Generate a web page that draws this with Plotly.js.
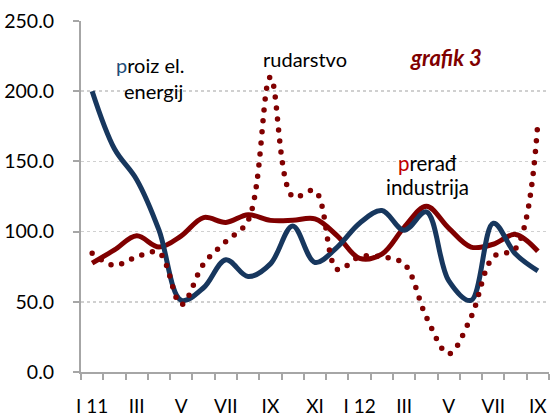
<!DOCTYPE html>
<html>
<head>
<meta charset="utf-8">
<script src="https://cdn.plot.ly/plotly-3.0.1.min.js"></script>
<style>
  html, body { margin: 0; padding: 0; background: #fff; }
  #chart { width: 550px; height: 419px; }
  .tracerud path.js-line { stroke-linecap: round; stroke-dasharray: 0 11px !important; }
</style>
</head>
<body>
<div id="chart"></div>
<script>
// Months (Jan 2011 – Sep 2012)
const months = ["I 11","II","III","IV","V","VI","VII","VIII","IX","X","XI","XII",
                "I 12","II","III","IV","V","VI","VII","VIII","IX"];
// Series values (index)
const proizElEnergije = [200, 159, 137, 101, 51, 60, 80, 68, 77, 104, 78, 89,
                         106, 115, 101, 114, 65, 51, 106, 84, 72];
const preradjivackaIndustrija = [77.5, 87, 97, 89, 97, 110, 106.5, 112, 108, 108, 109, 97,
                                 81, 84, 103, 118, 102.5, 89, 91, 98, 86];
const rudarstvo = [84.5, 76, 82, 85, 48, 77, 93, 108, 210, 125, 129, 73,
                   82, 82, 77, 39, 13, 39, 82, 88, 178];
const yTicks = [0, 50, 100, 150, 200, 250];

const idx = months.map((m, i) => i);
const shownIdx = idx.filter(i => i % 2 === 0);
const shownText = shownIdx.map(i => months[i]);

const RED = "#800000";
const BLUE = "#17375e";
const FONT = "Lato, 'Open Sans', sans-serif";

const traces = [
  { x: idx, y: preradjivackaIndustrija, type: "scatter", mode: "lines", name: "prerađ industrija",
    line: { color: RED, width: 5, shape: "spline", smoothing: 1 }, hoverinfo: "skip" },
  { x: idx, y: proizElEnergije, type: "scatter", mode: "lines", name: "proiz el. energij",
    line: { color: BLUE, width: 5, shape: "spline", smoothing: 1 }, hoverinfo: "skip" },
  { x: idx, y: rudarstvo, type: "scatter", mode: "lines", name: "rudarstvo", uid: "rud",
    line: { color: RED, width: 5.5, shape: "spline", smoothing: 1, dash: "dot" }, hoverinfo: "skip" }
];

const layout = {
  width: 550, height: 419,
  margin: { l: 81, r: 1, t: 21, b: 47, pad: 0 },
  paper_bgcolor: "#fff", plot_bgcolor: "#fff",
  showlegend: false,
  font: { family: FONT, size: 19, color: "#000" },
  xaxis: {
    type: "linear", range: [-0.5, 20.5], fixedrange: true,
    tickmode: "array", tickvals: shownIdx, ticktext: shownText,
    ticks: "", showgrid: false, zeroline: false,
    showline: true, linecolor: "#a6a6a6", linewidth: 2,
    ticklabelstandoff: 16,
    tickfont: { family: FONT, size: 19, color: "#000" },
    minor: { tickmode: "linear", tick0: -0.5, dtick: 1, ticks: "outside", ticklen: 6,
             tickcolor: "#a6a6a6", tickwidth: 2, showgrid: false }
  },
  yaxis: {
    range: [0, 250], fixedrange: true,
    tickmode: "array", tickvals: yTicks, tickformat: ".1f",
    ticks: "outside", ticklen: 6, tickcolor: "#a6a6a6", tickwidth: 2,
    showline: true, linecolor: "#a6a6a6", linewidth: 2,
    showgrid: true, gridcolor: "#d0d0d0", gridwidth: 1.5, griddash: "dot",
    zeroline: false, ticklabelstandoff: 15,
    tickfont: { family: FONT, size: 19.5, color: "#000" }
  },
  annotations: [
    { xref: "x", yref: "y", x: 2.6, y: 219, text: "<span style='color:#1f4e79'>p</span>roiz el.",
      showarrow: false, font: { family: FONT, size: 20, color: "#000" } },
    { xref: "x", yref: "y", x: 2.75, y: 200, text: "energij",
      showarrow: false, font: { family: FONT, size: 20, color: "#000" } },
    { xref: "x", yref: "y", x: 9.55, y: 223, text: "rudarstvo",
      showarrow: false, font: { family: FONT, size: 20, color: "#000" } },
    { xref: "x", yref: "y", x: 15.9, y: 224, text: "<b><i>grafik 3</i></b>",
      showarrow: false, font: { family: FONT, size: 22, color: RED } },
    { xref: "x", yref: "y", x: 15.05, y: 149, text: "<span style='color:#c00000'>p</span>rerađ",
      showarrow: false, font: { family: FONT, size: 20.5, color: "#000" } },
    { xref: "x", yref: "y", x: 15.05, y: 132, text: "industrija",
      showarrow: false, font: { family: FONT, size: 20.5, color: "#000" } }
  ]
};

Plotly.newPlot("chart", traces, layout, { staticPlot: true, displayModeBar: false });
</script>
</body>
</html>
